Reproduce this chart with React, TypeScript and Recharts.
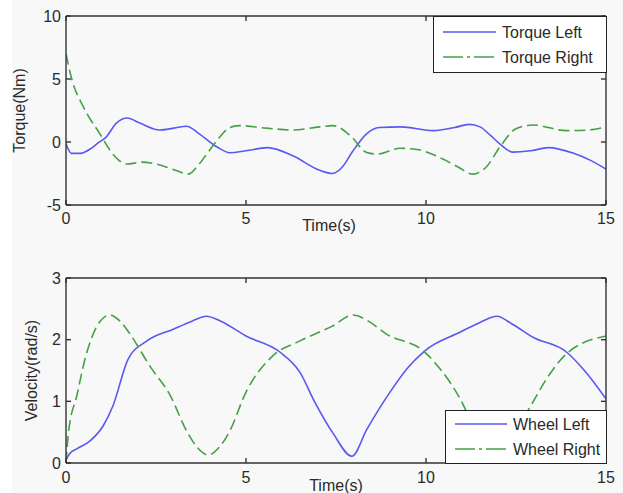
import React from 'react';
import { LineChart, Line, XAxis, YAxis, Legend } from 'recharts';

// ---------- data ----------
const xTicks = [0, 5, 10, 15];
const torqueTicks = [-5, 0, 5, 10];
const velocityTicks = [0, 1, 2, 3];

const torqueLeftT = [0, 0.15, 0.4, 0.7, 0.9, 1.1, 1.4, 1.7, 2.05, 2.6, 3.0, 3.35, 3.7, 4.2, 4.55, 5.0, 5.6, 6.3, 7.05, 7.4, 7.7, 7.95, 8.35, 8.7, 9.3, 10.2, 10.8, 11.2, 11.5, 11.8, 12.05, 12.4, 12.9, 13.4, 14.1, 14.6, 15];
const torqueLeftV = [-0.15, -0.9, -0.9, -0.5, -0.05, 0.35, 1.5, 1.9, 1.5, 0.95, 1.1, 1.25, 0.65, -0.4, -0.85, -0.7, -0.45, -1.1, -2.25, -2.5, -1.9, -0.8, 0.65, 1.15, 1.2, 0.9, 1.15, 1.4, 1.2, 0.5, -0.15, -0.8, -0.7, -0.45, -0.9, -1.5, -2.15];

const torqueRightT = [0, 0.16, 0.48, 0.94, 1.3, 1.69, 2.1, 2.42, 2.8, 3.1, 3.4, 3.7, 3.95, 4.19, 4.55, 4.8, 5.57, 6.3, 7.05, 7.42, 7.9, 8.35, 8.64, 9.28, 9.75, 10.47, 10.9, 11.3, 11.7, 12.05, 12.5, 12.97, 13.9, 14.5, 15];
const torqueRightV = [7.0, 5.0, 2.8, 0.65, -0.95, -1.75, -1.6, -1.7, -2.0, -2.3, -2.55, -1.75, -0.8, 0.1, 1.15, 1.3, 1.1, 0.95, 1.2, 1.3, 0.5, -0.83, -0.95, -0.5, -0.6, -1.35, -2.0, -2.55, -1.9, -0.4, 1.05, 1.35, 0.9, 0.95, 1.2];

const wheelLeftT = [0, 0.1, 0.3, 0.67, 1.03, 1.3, 1.73, 2.25, 2.98, 3.5, 3.9, 4.3, 5.0, 5.94, 6.5, 6.9, 7.42, 7.94, 8.36, 9.0, 9.5, 9.97, 10.94, 11.5, 11.97, 12.4, 12.97, 13.9, 14.4, 15];
const wheelLeftV = [0.05, 0.15, 0.23, 0.36, 0.6, 0.92, 1.69, 1.98, 2.17, 2.3, 2.38, 2.3, 2.06, 1.8, 1.47, 1.0, 0.48, 0.11, 0.55, 1.15, 1.55, 1.82, 2.12, 2.28, 2.38, 2.25, 2.04, 1.8, 1.5, 1.04];

const wheelRightT = [0, 0.07, 0.3, 0.53, 0.72, 0.95, 1.22, 1.5, 1.78, 2.33, 2.9, 3.35, 3.65, 3.95, 4.25, 4.55, 5.0, 5.75, 6.5, 7.4, 7.97, 8.4, 8.9, 9.92, 10.4, 10.95, 11.4, 11.95, 12.4, 12.9, 13.4, 13.9, 15];
const wheelRightV = [0.0, 0.5, 1.09, 1.69, 2.04, 2.3, 2.4, 2.3, 2.09, 1.57, 1.09, 0.52, 0.25, 0.13, 0.25, 0.52, 1.15, 1.74, 1.98, 2.22, 2.4, 2.3, 2.09, 1.82, 1.52, 1.04, 0.5, 0.13, 0.45, 0.92, 1.41, 1.77, 2.06];

const zip = (t: number[], v: number[]) => t.map((x, i) => ({ t: x, v: v[i] }));

const torqueLeft = zip(torqueLeftT, torqueLeftV);
const torqueRight = zip(torqueRightT, torqueRightV);
const wheelLeft = zip(wheelLeftT, wheelLeftV);
const wheelRight = zip(wheelRightT, wheelRightV);

// ---------- styles ----------
const FONT = '"Liberation Sans", Arial, sans-serif';
const BLUE = '#5858f2';
const GREEN = '#45a045';
const AXIS = '#333333';
const TEXT = '#2a2a2a';
const tickStyle = { fontSize: 16, fill: TEXT, fontFamily: FONT };
const axisLine = { stroke: AXIS, strokeWidth: 1.4 };

const legendDash: Record<string, string | undefined> = {
  'Torque Left': undefined,
  'Torque Right': '20 4 3 4',
  'Wheel Left': undefined,
  'Wheel Right': '20 4 3 4',
};

function LegendBox(props: any) {
  const { payload, w, h, rows, lineX1, lineX2, textX } = props;
  return (
    <div style={{ width: w, height: h, boxSizing: 'border-box', border: '1.4px solid #222', background: '#fff' }}>
      <svg width={w - 3} height={h - 3} style={{ display: 'block' }}>
        {(payload || []).map((e: any, i: number) => (
          <g key={e.value}>
            <line x1={lineX1} x2={lineX2} y1={rows[i]} y2={rows[i]} stroke={e.color} strokeWidth={1.6} strokeDasharray={legendDash[e.value]} />
            <text x={textX} y={rows[i]} dominantBaseline="central" fontSize={16} fontFamily={FONT} fill={TEXT}>{e.value}</text>
          </g>
        ))}
      </svg>
    </div>
  );
}

const YLabel = (text: string, cx: number) => (p: any) => {
  const vb = p.viewBox || {};
  const cy = vb.y + vb.height / 2;
  return (
    <text x={cx} y={cy} transform={`rotate(-90 ${cx} ${cy})`} textAnchor="middle" dominantBaseline="central" fontSize={16} fontFamily={FONT} fill={TEXT}>{text}</text>
  );
};

const XLabel = (cx: number, dy: number) => (p: any) => {
  const vb = p.viewBox || {};
  return (
    <text x={cx} y={vb.y + dy} textAnchor="middle" dominantBaseline="central" fontSize={16} fontFamily={FONT} fill={TEXT}>Time(s)</text>
  );
};

const empty = () => '';

export default function App() {
  return (
    <div style={{ position: 'absolute', left: 0, top: 0, width: 623, height: 493, background: '#fff', overflow: 'hidden' }}>
      <div style={{ position: 'absolute', left: 12, top: 0, width: 611, height: 493, background: '#f8f8f8' }} />
      <div style={{ position: 'absolute', left: 0, top: 0 }}>
        <LineChart width={623} height={250} margin={{ top: 15, right: 16, left: 0, bottom: 0 }}>
          <XAxis xAxisId={0} dataKey="t" type="number" domain={[0, 15]} ticks={xTicks} allowDataOverflow
            height={45} tickSize={-5} tickMargin={13} axisLine={axisLine} tickLine={axisLine} tick={tickStyle}
            label={XLabel(329, 20)} />
          <XAxis xAxisId="top" orientation="top" dataKey="t" type="number" domain={[0, 15]} ticks={xTicks} allowDataOverflow
            height={1} tickSize={-5} axisLine={axisLine} tickLine={axisLine} tickFormatter={empty} />
          <YAxis yAxisId={0} type="number" domain={[-5, 10]} ticks={torqueTicks} allowDataOverflow
            width={66} tickSize={-5} tickMargin={10} axisLine={axisLine} tickLine={axisLine} tick={tickStyle}
            label={YLabel('Torque(Nm)', 19)} />
          <YAxis yAxisId="right" orientation="right" type="number" domain={[-5, 10]} ticks={torqueTicks} allowDataOverflow
            width={1} tickSize={-5} axisLine={axisLine} tickLine={axisLine} tickFormatter={empty} />
          <Line data={torqueLeft} dataKey="v" name="Torque Left" type="monotone" stroke={BLUE} strokeWidth={1.6} dot={false} isAnimationActive={false} />
          <Line data={torqueRight} dataKey="v" name="Torque Right" type="monotone" stroke={GREEN} strokeWidth={1.6} strokeDasharray="11 5" dot={false} isAnimationActive={false} />
          <Legend layout="horizontal" verticalAlign="middle" align="center"
            wrapperStyle={{ position: 'absolute', left: 433, top: 16, width: 174, height: 57 }}
            content={(p: any) => <LegendBox payload={p.payload} w={174} h={57} rows={[15, 40]} lineX1={9} lineX2={62} textX={68} />} />
        </LineChart>
      </div>
      <div style={{ position: 'absolute', left: 0, top: 250 }}>
        <LineChart width={623} height={243} margin={{ top: 27, right: 16, left: 0, bottom: 0 }}>
          <XAxis xAxisId={0} dataKey="t" type="number" domain={[0, 15]} ticks={xTicks} allowDataOverflow
            height={30} tickSize={-5} tickMargin={14} axisLine={axisLine} tickLine={axisLine} tick={tickStyle}
            label={XLabel(336, 22)} />
          <XAxis xAxisId="top" orientation="top" dataKey="t" type="number" domain={[0, 15]} ticks={xTicks} allowDataOverflow
            height={1} tickSize={-5} axisLine={axisLine} tickLine={axisLine} tickFormatter={empty} />
          <YAxis yAxisId={0} type="number" domain={[0, 3]} ticks={velocityTicks} allowDataOverflow
            width={66} tickSize={-5} tickMargin={10} axisLine={axisLine} tickLine={axisLine} tick={tickStyle}
            label={YLabel('Velocity(rad/s)', 31)} />
          <YAxis yAxisId="right" orientation="right" type="number" domain={[0, 3]} ticks={velocityTicks} allowDataOverflow
            width={1} tickSize={-5} axisLine={axisLine} tickLine={axisLine} tickFormatter={empty} />
          <Line data={wheelLeft} dataKey="v" name="Wheel Left" type="monotone" stroke={BLUE} strokeWidth={1.6} dot={false} isAnimationActive={false} />
          <Line data={wheelRight} dataKey="v" name="Wheel Right" type="monotone" stroke={GREEN} strokeWidth={1.6} strokeDasharray="11 5" dot={false} isAnimationActive={false} />
          <Legend layout="horizontal" verticalAlign="middle" align="center"
            wrapperStyle={{ position: 'absolute', left: 445, top: 160, width: 162, height: 54 }}
            content={(p: any) => <LegendBox payload={p.payload} w={162} h={54} rows={[13, 38]} lineX1={9} lineX2={61} textX={67} />} />
        </LineChart>
      </div>
    </div>
  );
}
